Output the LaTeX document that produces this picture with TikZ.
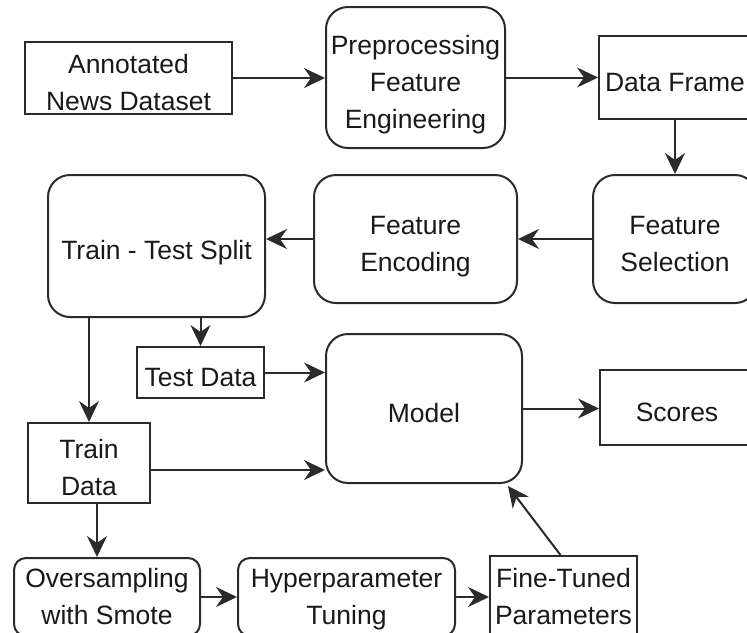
\documentclass[tikz,border=0pt]{standalone}
\usepackage{fontspec}
\setmainfont{Liberation Sans}
\usetikzlibrary{arrows.meta,calc}
\definecolor{edge}{HTML}{2B2B2B}
% centred label lines of no height of their own, set a little below the centre
\newcommand{\boxtext}[2][12.5pt]{\raisebox{-#1}[0pt][0pt]{\begin{tabular}{@{}c@{}}#2\end{tabular}}}
\tikzset{
  base/.style={draw=edge, line width=2pt, inner sep=0pt,
    font=\fontsize{26.5}{37}\selectfont, text=black!90},
  sqbox/.style={base},
  rbox/.style={base, rounded corners=22pt},
  rsmall/.style={base, rounded corners=12pt},
  flow/.style={draw=edge, line width=2pt,
    -{Stealth[length=21pt,width=20pt,inset=7pt]}}
}
\begin{document}
\begin{tikzpicture}[x=1pt,y=-1pt]
  \useasboundingbox (0,0) rectangle (747,632);
  \clip (0,0) rectangle (747,632);

  % top row
  \node[sqbox, minimum width=207pt, minimum height=72pt] (ann) at (128.5,78) {\boxtext{Annotated\\News Dataset}};
  \node[rbox, minimum width=179pt, minimum height=141pt] (pre) at (415.5,77.5) {\boxtext{Preprocessing\\Feature\\Engineering}};
  \node[sqbox, minimum width=152pt, minimum height=83pt] (df) at (675,77.5) {\boxtext{Data Frame}};

  % second row
  \node[rbox, minimum width=164pt, minimum height=128pt] (fsel) at (675,239) {\boxtext{Feature\\Selection}};
  \node[rbox, minimum width=203pt, minimum height=128pt] (fenc) at (415.5,239) {\boxtext{Feature\\Encoding}};
  \node[rbox, minimum width=217pt, minimum height=142pt] (tts) at (156.5,246) {\boxtext{Train - Test Split}};

  % split outputs and model
  \node[sqbox, minimum width=127pt, minimum height=51pt] (test) at (200.5,372.5) {\boxtext{Test Data}};
  \node[sqbox, minimum width=122pt, minimum height=80pt] (train) at (89,463) {\boxtext{Train\\Data}};
  \node[rbox, minimum width=196pt, minimum height=149pt] (model) at (424,408.5) {\boxtext{Model}};
  \node[sqbox, minimum width=154pt, minimum height=75pt] (scores) at (677,407.5) {\boxtext{Scores}};

  % bottom row
  \node[rsmall, minimum width=186pt, minimum height=78pt] (over) at (107,597) {\boxtext[8pt]{Oversampling\\with Smote}};
  \node[rsmall, minimum width=217pt, minimum height=78pt] (hyper) at (346.5,597) {\boxtext[8pt]{Hyperparameter\\Tuning}};
  \node[sqbox, minimum width=147pt, minimum height=80pt] (fine) at (563.5,596) {\boxtext[9pt]{Fine-Tuned\\Parameters}};

  % connectors
  \draw[flow] (ann.east) -- (ann.east -| pre.west);
  \draw[flow] (pre.east) -- (pre.east -| df.west);
  \draw[flow] (df.south) -- (fsel.north);
  \draw[flow] (fsel.west) -- (fenc.east);
  \draw[flow] (fenc.west) -- (fenc.west -| tts.east);
  \draw[flow] (test.north |- tts.south) -- (test.north);
  \draw[flow] (train.north |- tts.south) -- (train.north);
  \draw[flow] (test.east) -- (test.east -| model.west);
  \draw[flow] ([yshift=-7pt]train.east) -- ([yshift=-7pt]train.east -| model.west);
  \draw[flow] (model.east) -- (model.east -| scores.west);
  \draw[flow] ([xshift=8pt]train.south) -- ([xshift=8pt]train.south |- over.north);
  \draw[flow] (over.east) -- (hyper.west);
  \draw[flow] (hyper.east) -- (hyper.east -| fine.west);
  \draw[flow] ([xshift=-3pt]fine.north) -- ([xshift=-15pt,yshift=-2pt]model.south east);
\end{tikzpicture}
\end{document}
